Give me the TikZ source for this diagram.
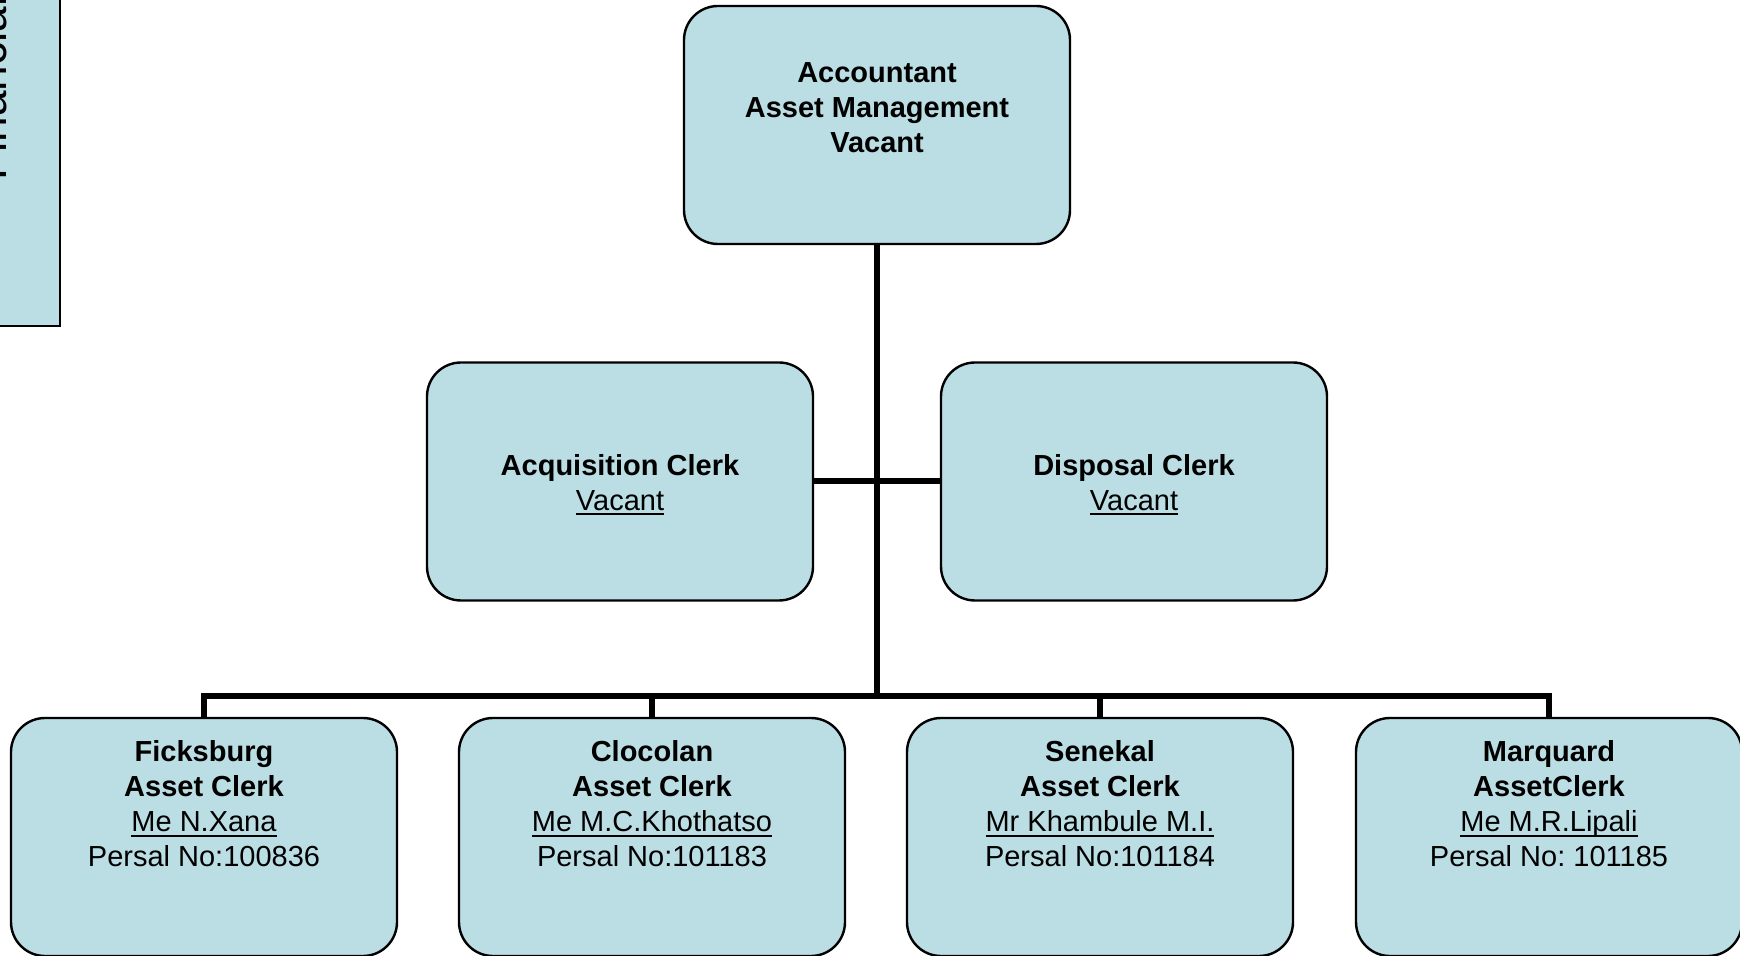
\documentclass[tikz,border=0pt]{standalone}
\usepackage{fontspec}
\setmainfont{Liberation Sans}
\frenchspacing
\definecolor{postblue}{RGB}{187,222,228}
\newsavebox{\namebox}
\newcommand{\nameline}[1]{\sbox\namebox{#1}\rlap{\rule[-2.5pt]{\wd\namebox}{1pt}}\usebox\namebox}
\tikzset{
  post/.style={draw, line width=1.2pt, fill=postblue, rounded corners=17pt,
    minimum width=193pt, minimum height=119pt, inner sep=0pt},
  txt/.style={align=center, inner sep=0pt, font=\fontsize{14.5}{17.5}\selectfont},
  link/.style={line width=3pt}
}

\begin{document}
\begin{tikzpicture}[x=0.5pt,y=-0.5pt]
\useasboundingbox (0,0) rectangle (1740,956);
\clip (0,0) rectangle (1740,956);

% side panel, cut off at the page edge
\draw[fill=postblue, line width=1.2pt] (-20,-20) rectangle (60,326);
\node[rotate=90, anchor=base west, inner sep=0pt, font=\fontsize{23}{27}\selectfont] (side) at (6.5,181) {Financial};

% posts
\node[post] (acct) at (877,125) {};
\node[post] (acq) at (620,481.5) {};
\node[post] (disp) at (1134,481.5) {};
\node[post] (fick) at (204,837) {};
\node[post] (cloc) at (652,837) {};
\node[post] (sene) at (1100,837) {};
\node[post] (marq) at (1549,837) {};

% lines
\coordinate (bus) at (877,695.5);
\draw[link] (acct.south) -- (bus);
\draw[link] (acq.east) -- (disp.west);
\draw[link] (fick.north) |- (bus) -| (marq.north);
\draw[link] (cloc.north) -- (cloc.north |- bus);
\draw[link] (sene.north) -- (sene.north |- bus);

% texts
\node[txt, font=\fontsize{14.5}{17.5}\selectfont\bfseries] (acctT) at (877,107.6) {Accountant\\Asset Management\\Vacant};
\node[txt] (acqT) at (620,484.6) {\textbf{Acquisition Clerk}\\\nameline{Vacant}};
\node[txt] (dispT) at (1134,484.6) {\textbf{Disposal Clerk}\\\nameline{Vacant}};
\node[txt] (fickT) at (204,804) {\textbf{Ficksburg}\\\textbf{Asset Clerk}\\\nameline{Me N.Xana}\\Persal No:100836};
\node[txt] (clocT) at (652,804) {\textbf{Clocolan}\\\textbf{Asset Clerk}\\\nameline{Me M.C.Khothatso}\\Persal No:101183};
\node[txt] (seneT) at (1100,804) {\textbf{Senekal}\\\textbf{Asset Clerk}\\\nameline{Mr Khambule M.I.}\\Persal No:101184};
\node[txt] (marqT) at (1549,804) {\textbf{Marquard}\\\textbf{AssetClerk}\\\nameline{Me M.R.Lipali}\\Persal No: 101185};
\end{tikzpicture}
\end{document}
